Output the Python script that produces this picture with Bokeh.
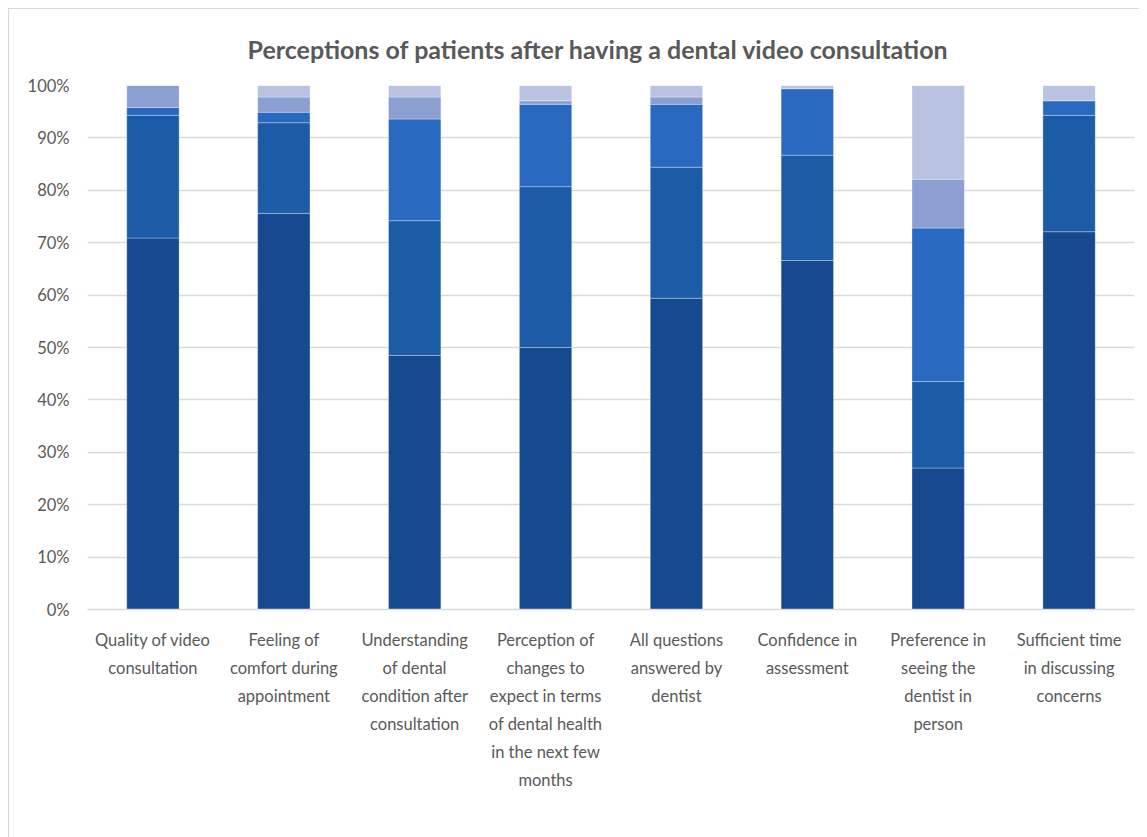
from bokeh.plotting import figure
from bokeh.models import ColumnDataSource, Legend, LegendItem, NumeralTickFormatter, FixedTicker
from bokeh.embed import file_html
from bokeh.resources import INLINE

categories = [
    "Quality of video\nconsultation",
    "Feeling of\ncomfort during\nappointment",
    "Understanding\nof dental\ncondition after\nconsultation",
    "Perception of\nchanges to\nexpect in terms\nof dental health\nin the next few\nmonths",
    "All questions\nanswered by\ndentist",
    "Confidence in\nassessment",
    "Preference in\nseeing the\ndentist in\nperson",
    "Sufficient time\nin discussing\nconcerns",
]
series = ["Strongly Agree", "Somewhat Agree", "Neither Agree nor Disagree",
          "Somewhat Disagree", "Strongly Disagree"]
strongly_agree = [0.709, 0.756, 0.485, 0.500, 0.594, 0.666, 0.270, 0.721]
somewhat_agree = [0.234, 0.173, 0.257, 0.307, 0.250, 0.201, 0.165, 0.222]
neither = [0.015, 0.020, 0.194, 0.157, 0.120, 0.127, 0.293, 0.028]
somewhat_disagree = [0.042, 0.029, 0.042, 0.007, 0.014, 0.000, 0.093, 0.000]
strongly_disagree = [0.000, 0.022, 0.022, 0.029, 0.022, 0.006, 0.179, 0.029]
colors = ["#17498F", "#1C5CA6", "#2A69C0", "#8C9FD2", "#B8C3E1"]

TEXT = "#595959"
FONT = "Lato"

keys = ["sa", "swa", "n", "swd", "sd"]
source = ColumnDataSource(dict(
    cat=categories, sa=strongly_agree, swa=somewhat_agree, n=neither,
    swd=somewhat_disagree, sd=strongly_disagree,
))

p = figure(
    x_range=categories, y_range=(0, 1),
    frame_width=1047, frame_height=524,
    output_backend="svg", toolbar_location=None,
    min_border_left=78, min_border_right=5, min_border_top=74, min_border_bottom=0,
)
p.styles = {"margin-left": "8px", "margin-top": "8px",
            "border-left": "1px solid #D9D9D9", "border-top": "1px solid #D9D9D9"}

renderers = p.vbar_stack(keys, x="cat", width=0.4, source=source, color=colors,
                         line_color="#ffffff", line_alpha=0.3, line_width=1)

p.title.text = "Perceptions of patients after having a dental video consultation"
p.title.align = "left"
p.title.offset = 160
p.title.text_font = FONT
p.title.text_font_size = "25px"
p.title.text_font_style = "bold"
p.title.text_color = TEXT
p.title.standoff = 44

p.outline_line_color = None
p.background_fill_color = "white"
p.border_fill_color = "white"

p.xgrid.grid_line_color = None
p.ygrid.grid_line_color = "#D9D9D9"
p.ygrid.grid_line_width = 1.5
p.yaxis.ticker = FixedTicker(ticks=[i / 10 for i in range(11)])
p.yaxis.formatter = NumeralTickFormatter(format="0%")
p.yaxis.axis_line_color = None
p.yaxis.major_tick_line_color = None
p.yaxis.minor_tick_line_color = None
p.yaxis.major_label_standoff = 12
p.yaxis.major_label_text_font = FONT
p.yaxis.major_label_text_font_size = "16.5px"
p.yaxis.major_label_text_color = TEXT

p.xaxis.axis_line_color = "#D9D9D9"
p.xaxis.axis_line_width = 1.5
p.xaxis.major_tick_line_color = None
p.xaxis.minor_tick_line_color = None
p.xaxis.major_label_standoff = 14
p.xaxis.major_label_text_font = FONT
p.xaxis.major_label_text_font_size = "16.5px"
p.xaxis.major_label_text_color = TEXT
p.xaxis.major_label_text_line_height = 1.4
p.xaxis.axis_label = " "
p.xaxis.axis_label_standoff = 30
p.xaxis.axis_label_text_font_size = "16px"
p.x_range.range_padding = 0

legend = Legend(
    items=[LegendItem(label=s, renderers=[r]) for s, r in zip(series, renderers)],
    orientation="horizontal",
    location="top_left",
    glyph_width=10, glyph_height=10, label_standoff=4, spacing=38,
    padding=0, margin=0,
    border_line_color=None, background_fill_alpha=0,
    label_text_font=FONT, label_text_font_size="16.5px", label_text_color=TEXT,
)
p.add_layout(legend, "below")

open("out.html", "w").write(file_html(p, INLINE))
